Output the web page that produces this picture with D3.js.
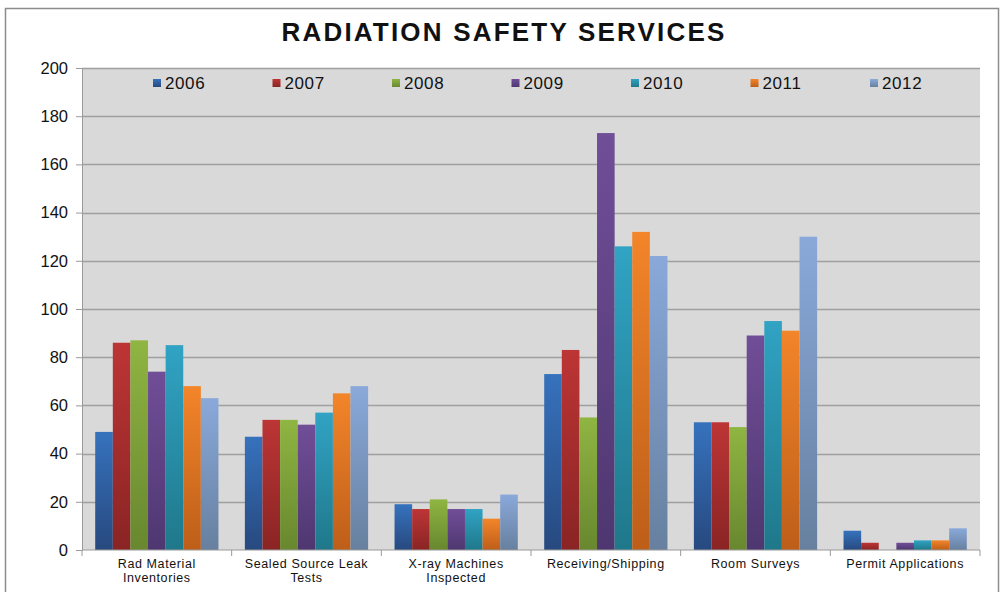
<!DOCTYPE html>
<html>
<head>
<meta charset="utf-8">
<script src="https://cdn.jsdelivr.net/npm/d3@7"></script>
<style>
  body { margin: 0; background: #fff; }
  svg { display: block; font-family: "Liberation Sans", Arial, sans-serif; }
</style>
</head>
<body>
<svg width="1004" height="592"></svg>
<script>
const categories = [
    ['Rad Material', 'Inventories'],
    ['Sealed Source Leak', 'Tests'],
    ['X-ray Machines', 'Inspected'],
    ['Receiving/Shipping'],
    ['Room Surveys'],
    ['Permit Applications']
]
const years = ['2006', '2007', '2008', '2009', '2010', '2011', '2012']
const values2006 = [49, 47, 19, 73, 53, 8]
const values2007 = [86, 54, 17, 83, 53, 3]
const values2008 = [87, 54, 21, 55, 51, 0]
const values2009 = [74, 52, 17, 173, 89, 3]
const values2010 = [85, 57, 17, 126, 95, 4]
const values2011 = [68, 65, 13, 132, 91, 4]
const values2012 = [63, 68, 23, 122, 130, 9]
const yTicks = [0, 20, 40, 60, 80, 100, 120, 140, 160, 180, 200]

const series = [values2006, values2007, values2008, values2009, values2010, values2011, values2012]
// top / bottom colour of each bar gradient
const colors = [
    ['#3672bd', '#27497f'],
    ['#bd3535', '#8a2424'],
    ['#8fb542', '#68872f'],
    ['#714e98', '#4e3770'],
    ['#31a3c4', '#1f788a'],
    ['#f3852a', '#bd5e19'],
    ['#8aa9da', '#67809f']
]

const svg = d3.select('svg')
const margin = { left: 82, right: 24, top: 68, bottom: 42 }
const width = 1004, height = 592

// chart frame
svg.append('rect')
    .attr('x', 5.5).attr('y', 8.5).attr('width', 993).attr('height', 600)
    .attr('fill', '#fff').attr('stroke', '#8c8c8c').attr('stroke-width', 1.5)

const defs = svg.append('defs')
colors.forEach((c, i) => {
    const g = defs.append('linearGradient').attr('id', 'grad' + i)
        .attr('x1', 0).attr('y1', 0).attr('x2', 0).attr('y2', 1)
    g.append('stop').attr('offset', '0%').attr('stop-color', c[0])
    g.append('stop').attr('offset', '100%').attr('stop-color', c[1])
})

const x = d3.scaleBand()
    .domain(d3.range(categories.length))
    .range([margin.left, width - margin.right])
    .paddingInner(0).paddingOuter(0)
const inner = d3.scaleBand()
    .domain(d3.range(years.length))
    .range([0, x.bandwidth()])
    .paddingInner(0).paddingOuter(0.75)
const y = d3.scaleLinear().domain([0, 200]).range([height - margin.bottom, margin.top])

// plot area
svg.append('rect')
    .attr('x', margin.left).attr('y', margin.top)
    .attr('width', width - margin.right - margin.left)
    .attr('height', y(0) - margin.top)
    .attr('fill', '#d9d9d9')

// grid lines
svg.append('g').selectAll('line').data(yTicks.slice(1)).join('line')
    .attr('x1', margin.left).attr('x2', width - margin.right)
    .attr('y1', d => Math.round(y(d)) + 0.5).attr('y2', d => Math.round(y(d)) + 0.5)
    .attr('stroke', '#a0a0a0').attr('stroke-width', 1.3)

// bars
const groups = svg.append('g').selectAll('g').data(series).join('g')
    .attr('fill', (d, i) => `url(#grad${i})`)
groups.selectAll('rect').data((d, i) => d.map((v, c) => ({ v, c, s: i }))).join('rect')
    .attr('x', d => x(d.c) + inner(d.s))
    .attr('width', inner.bandwidth())
    .attr('y', d => y(d.v))
    .attr('height', d => y(0) - y(d.v))

// y axis
const yAxis = svg.append('g')
    .attr('transform', `translate(${margin.left},0)`)
    .call(d3.axisLeft(y).tickValues(yTicks).tickSize(6).tickPadding(8))
yAxis.select('.domain').attr('stroke', '#9a9a9a')
yAxis.selectAll('.tick line').attr('stroke', '#9a9a9a')
yAxis.selectAll('text').attr('font-size', 16.5).attr('fill', '#111')

// x axis
const xAxisG = svg.append('g').attr('transform', `translate(0,${y(0)})`)
xAxisG.append('line')
    .attr('x1', margin.left).attr('x2', width - margin.right)
    .attr('stroke', '#9a9a9a')
xAxisG.selectAll('line.tk').data(d3.range(categories.length + 1)).join('line')
    .attr('class', 'tk')
    .attr('x1', d => margin.left + d * x.bandwidth()).attr('x2', d => margin.left + d * x.bandwidth())
    .attr('y1', 0).attr('y2', 6)
    .attr('stroke', '#9a9a9a')

const catText = xAxisG.selectAll('text').data(categories).join('text')
    .attr('text-anchor', 'middle')
    .attr('font-size', 12.5)
    .attr('letter-spacing', 0.6)
    .attr('fill', '#111')
catText.selectAll('tspan').data((d, i) => d.map(t => ({ t, i }))).join('tspan')
    .attr('x', d => x(d.i) + x.bandwidth() / 2)
    .attr('y', (d, j) => 18 + j * 14)
    .text(d => d.t)

// legend
const legend = svg.append('g').selectAll('g').data(years).join('g')
    .attr('transform', (d, i) => `translate(${153 + i * 119.5},83)`)
legend.append('rect')
    .attr('x', 0).attr('y', -4).attr('width', 8).attr('height', 8)
    .attr('fill', (d, i) => `url(#grad${i})`)
legend.append('text')
    .attr('x', 12).attr('y', 6)
    .attr('font-size', 17).attr('letter-spacing', 0.6).attr('fill', '#111')
    .text(d => d)

// title
svg.append('text')
    .attr('x', 504).attr('y', 41)
    .attr('text-anchor', 'middle')
    .attr('font-size', 26).attr('font-weight', 'bold')
    .attr('letter-spacing', 2.2)
    .attr('fill', '#111')
    .text('RADIATION SAFETY SERVICES')
</script>
</body>
</html>
